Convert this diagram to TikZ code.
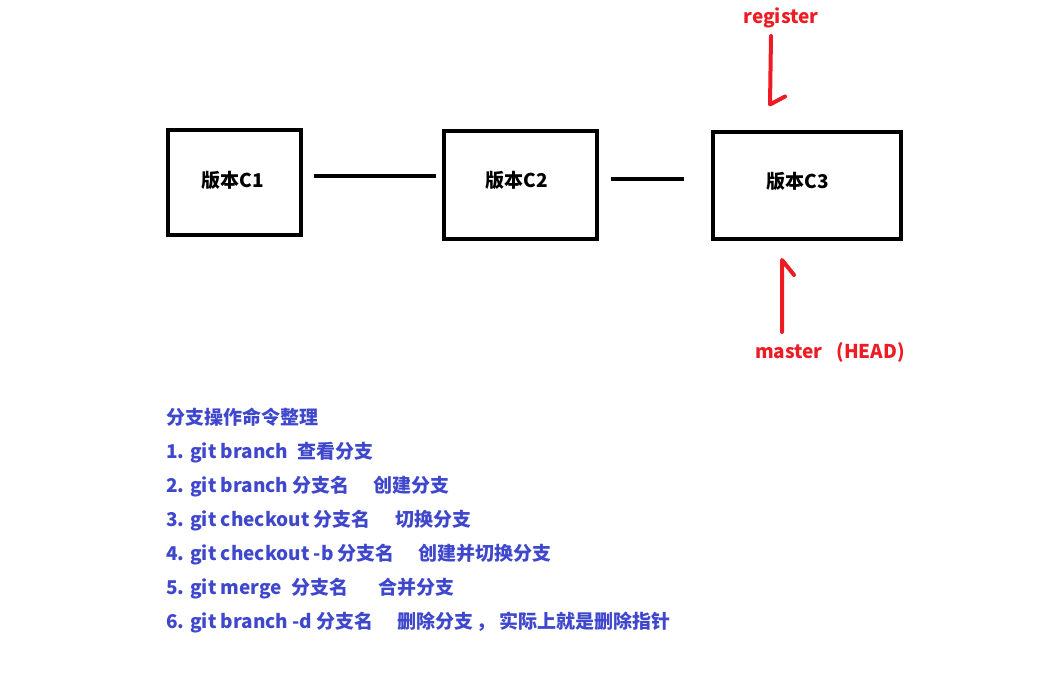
\documentclass[tikz,border=0pt]{standalone}
\usepackage{fontspec}
\setmainfont{Noto Sans CJK SC}
\definecolor{pgred}{RGB}{237,28,36}
\definecolor{pgblue}{RGB}{63,72,204}
\usetikzlibrary{calc}

\begin{document}
\begin{tikzpicture}[x=1pt,y=-1pt,
  commit/.style={draw,line width=4pt,inner sep=0pt},
  lbl/.style={font=\fontsize{19}{22}\selectfont\bfseries},
  cmd/.style={font=\fontsize{19}{22}\selectfont\bfseries,pgblue,inner sep=0pt},
  ptr/.style={pgred,line width=4pt,line cap=round,line join=round},
  link/.style={line width=4pt}]
  \useasboundingbox (0,0) rectangle (1056,676);
  % commits
  \node[commit,minimum width=133pt,minimum height=105pt] (c1) at (234.5,182.5) {};
  \node[commit,minimum width=153pt,minimum height=108pt] (c2) at (520.5,185) {};
  \node[commit,minimum width=188pt,minimum height=107pt] (c3) at (807,185.5) {};
  \node[lbl] (l1) at (233,180) {版本C1};
  \node[lbl] (l2) at (517,180) {版本C2};
  \node[lbl] (l3) at (798,181) {版本C3};
  % links between commits
  \draw[link,shorten <=11pt,shorten >=6pt] ([yshift=6.5pt]c1.east) -- ([yshift=9pt]c2.west);
  \draw[link,shorten <=12pt,shorten >=27pt] ([yshift=6pt]c2.east) -- ([yshift=6.5pt]c3.west);
  % branch pointers
  \node[lbl,pgred,anchor=base,inner sep=0pt] (reg) at (781,24) {register};
  \coordinate (regtip) at ([xshift=-37pt,yshift=25.5pt]c3.north);
  \draw[ptr] ([xshift=-10pt,yshift=-12pt]reg.base) -- (regtip) -- ++(15,-8);
  \node[lbl,pgred,anchor=base,inner sep=0pt] (mst) at (830,358) {master\hspace{14pt}(HEAD)};
  \coordinate (msttip) at ([xshift=-25pt,yshift=-19pt]c3.south);
  \draw[ptr] ([xshift=-48pt,yshift=26pt]mst.base) -- (msttip) -- ++(12,15);
  % command list
  \foreach \txt [count=\k from 0] in {
    {分支操作命令整理},
    {1. git branch\hspace{9pt}查看分支},
    {2. git branch 分支名\hspace{24pt}创建分支},
    {3. git checkout 分支名\hspace{25pt}切换分支},
    {4. git checkout -b 分支名\hspace{24pt}创建并切换分支},
    {5. git merge\hspace{9pt}分支名\hspace{30pt}合并分支},
    {6. git branch -d 分支名\hspace{24pt}删除分支\hspace{3pt}，\hspace{4pt}实际上就是删除指针}}
    \node[cmd,anchor=base west] (cmd\k) at (166,424+34*\k) {\txt};
\end{tikzpicture}
\end{document}
